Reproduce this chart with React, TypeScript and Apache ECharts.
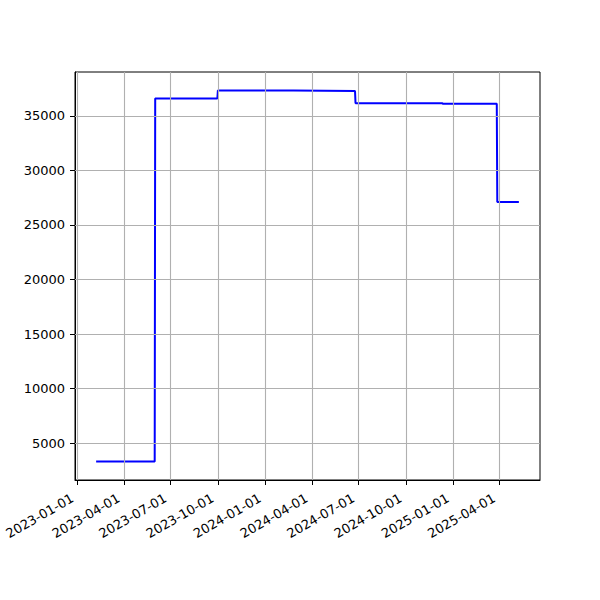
import React, { useEffect, useRef } from "react";
import * as echarts from "echarts";

const dates = [
  "2023-02-06",
  "2023-05-31",
  "2023-06-01",
  "2023-09-30",
  "2023-10-01",
  "2024-02-25",
  "2024-02-26",
  "2024-06-24",
  "2024-06-25",
  "2024-12-11",
  "2024-12-12",
  "2025-03-27",
  "2025-03-28",
  "2025-05-09",
];
const values = [
  3315, 3315, 36600, 36600, 37330, 37330, 37290, 37290, 36170, 36170, 36120,
  36120, 27100, 27100,
];
const xTickLabels = [
  "2023-01-01",
  "2023-04-01",
  "2023-07-01",
  "2023-10-01",
  "2024-01-01",
  "2024-04-01",
  "2024-07-01",
  "2024-10-01",
  "2025-01-01",
  "2025-04-01",
];
const yTicks = [5000, 10000, 15000, 20000, 25000, 30000, 35000];

function ts(s: string): number {
  const [y, m, d] = s.split("-").map(Number);
  return new Date(y, m - 1, d).getTime();
}
function fmt(v: number): string {
  const d = new Date(v);
  const p = (n: number) => String(n).padStart(2, "0");
  return `${d.getFullYear()}-${p(d.getMonth() + 1)}-${p(d.getDate())}`;
}

export default function App() {
  const ref = useRef<HTMLDivElement>(null);
  useEffect(() => {
    if (!ref.current) return;
    const chart = echarts.init(ref.current, undefined, { renderer: "svg" });
    const xs = dates.map(ts);
    const x0 = Math.min(...xs);
    const x1 = Math.max(...xs);
    const y0 = Math.min(...values);
    const y1 = Math.max(...values);
    const xPad = (x1 - x0) * 0.05;
    const yPad = (y1 - y0) * 0.05;
    const xTicks = xTickLabels.map(ts);
    const font = "DejaVu Sans";
    const gridColor = "#b0b0b0";
    chart.setOption({
      animation: false,
      backgroundColor: "#ffffff",
      grid: {
        left: 75,
        top: 72,
        right: 60,
        bottom: 120,
        show: true,
        borderColor: "#000",
        borderWidth: 1,
        backgroundColor: "transparent",
      },
      xAxis: {
        type: "value",
        min: x0 - xPad,
        max: x1 + xPad,
        axisLine: { show: true, lineStyle: { color: "#000", width: 1 } },
        axisTick: {
          show: true,
          customValues: xTicks,
          length: 5,
          lineStyle: { color: "#000", width: 1 },
        },
        axisLabel: {
          customValues: xTicks,
          formatter: (v: number) => fmt(v),
          rotate: 30,
          margin: 14,
          padding: [0, 6, 0, 0],
          color: "#000",
          fontFamily: font,
          fontSize: 13,
        },
        splitLine: { show: false },
      },
      yAxis: {
        type: "value",
        min: y0 - yPad,
        max: y1 + yPad,
        axisLine: { show: true, lineStyle: { color: "#000", width: 1 } },
        axisTick: {
          show: true,
          customValues: yTicks,
          length: 5,
          lineStyle: { color: "#000", width: 1 },
        },
        axisLabel: {
          customValues: yTicks,
          formatter: (v: number) => String(v),
          margin: 10,
          color: "#000",
          fontFamily: font,
          fontSize: 13,
        },
        splitLine: { show: false },
      },
      series: [
        {
          type: "line",
          data: [],
          z: 1,
          silent: true,
          markLine: {
            silent: true,
            symbol: "none",
            animation: false,
            label: { show: false },
            lineStyle: { color: gridColor, width: 1.1, type: "solid" },
            data: [
              ...xTicks.map((t) => ({ xAxis: t })),
              ...yTicks.map((v) => ({ yAxis: v })),
            ],
          },
        },
        {
          type: "line",
          z: 3,
          data: xs.map((t, i) => [t, values[i]]),
          showSymbol: false,
          symbol: "none",
          lineStyle: { color: "#0000ff", width: 2 },
          itemStyle: { color: "#0000ff" },
        },
      ],
    });
    return () => chart.dispose();
  }, []);
  return (
    <div
      ref={ref}
      style={{ position: "fixed", left: 0, top: 0, width: 600, height: 600 }}
    />
  );
}
